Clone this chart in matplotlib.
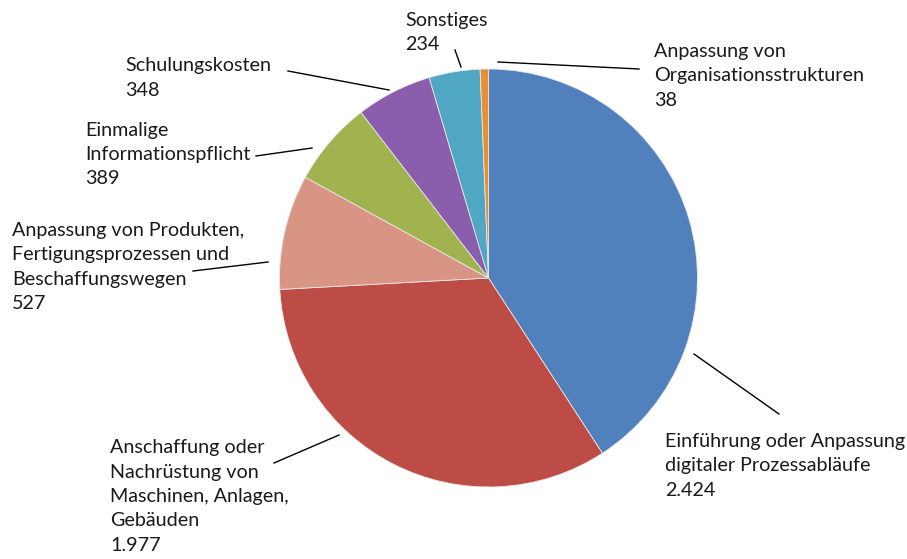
import matplotlib
matplotlib.use("Agg")
import matplotlib.pyplot as plt

categories = [
    "Einführung oder Anpassung\ndigitaler Prozessabläufe",
    "Anschaffung oder\nNachrüstung von\nMaschinen, Anlagen,\nGebäuden",
    "Anpassung von Produkten,\nFertigungsprozessen und\nBeschaffungswegen",
    "Einmalige\nInformationspflicht",
    "Schulungskosten",
    "Sonstiges",
    "Anpassung von\nOrganisationsstrukturen",
]
values = [2424, 1977, 527, 389, 348, 234, 38]
colors = ["#5181BD", "#BD4C46", "#D99584", "#A0B34F", "#8A5DAD", "#4FA7C3", "#E98F30"]

W, H = 907, 559
fig = plt.figure(figsize=(W / 100, H / 100), dpi=100)
ax = fig.add_axes([0, 0, 1, 1])

def py(y):
    return H - y

cx, cy, r = 488.5, 278, 209
ax.pie(values, colors=colors, startangle=90, counterclock=False,
       center=(cx, py(cy)), radius=r, frame=True,
       wedgeprops=dict(linewidth=0.6, edgecolor="#e8e8e8"))
ax.set_xlim(0, W)
ax.set_ylim(0, H)
ax.set_aspect("equal")
ax.axis("off")

def fmt(v):
    return f"{v:,}".replace(",", ".")

# label block positions (left x, vertical centre) and leader lines (pixel coords)
label_pos = [(665, 466), (110, 496.5), (12, 267), (85, 154.5), (125, 78), (405, 32.5), (654, 76)]
leaders = [
    ((694, 354), (779, 414)),
    ((339, 435), (274, 463)),
    ((268, 262), (193, 271)),
    ((312, 148), (256, 156)),
    ((389, 90), (288, 71)),
    ((461, 67), (455, 50)),
    ((498, 62), (639, 69)),
]

for cat, v, (lx, ly), (p0, p1) in zip(categories, values, label_pos, leaders):
    ax.text(lx, py(ly), f"{cat}\n{fmt(v)}", ha="left", va="center",
            fontsize=14.2, family="Lato", color="#1a1a1a", linespacing=1.52)
    ax.plot([p0[0], p1[0]], [py(p0[1]), py(p1[1])], color="black", lw=1.0)

fig.savefig("out.png", dpi=100, facecolor="white")
